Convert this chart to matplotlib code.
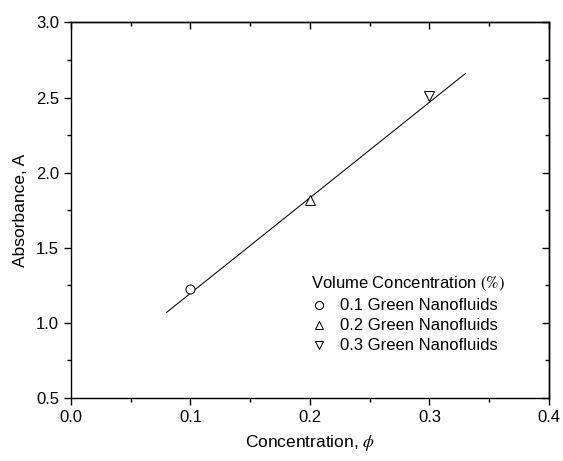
import numpy as np
import matplotlib
matplotlib.use("Agg")
import matplotlib.pyplot as plt
from matplotlib.ticker import MultipleLocator

plt.rcParams['font.family'] = ['Liberation Sans', 'DejaVu Sans']
plt.rcParams['mathtext.fontset'] = 'stix'

conc = [0.1, 0.2, 0.3]
absorb = [1.225, 1.82, 2.51]
labels = ["0.1 Green Nanofluids", "0.2 Green Nanofluids", "0.3 Green Nanofluids"]
markers = ["o", "^", "v"]
fit_x = [0.08, 0.33]
fit_y = [1.07, 2.66]

fig = plt.figure(figsize=(5.63, 4.61), dpi=100)
ax = fig.add_axes([0.1261, 0.1367, 0.8490, 0.8145])

ax.plot(fit_x, fit_y, color='black', lw=0.75, zorder=2)

for x, y, m, lab in zip(conc, absorb, markers, labels):
    ax.plot([x], [y], linestyle='none', marker=m, markersize=6.5, mfc='white',
            mec='black', mew=0.75, label=lab, zorder=3)

ax.set_xlim(0.0, 0.4)
ax.set_ylim(0.5, 3.0)
ax.xaxis.set_major_locator(MultipleLocator(0.1))
ax.xaxis.set_minor_locator(MultipleLocator(0.05))
ax.yaxis.set_major_locator(MultipleLocator(0.5))
ax.yaxis.set_minor_locator(MultipleLocator(0.25))
ax.xaxis.set_major_formatter(plt.FuncFormatter(lambda v, p: f"{v:.1f}"))
ax.yaxis.set_major_formatter(plt.FuncFormatter(lambda v, p: f"{v:.1f}"))

ax.tick_params(which='both', direction='out', top=False, right=False, labelsize=12, width=1)
ax.tick_params(which='major', length=5)
ax.tick_params(which='minor', length=3)

axt = ax.secondary_xaxis('top')
axt.xaxis.set_major_locator(MultipleLocator(0.1))
axt.xaxis.set_minor_locator(MultipleLocator(0.05))
axt.tick_params(which='both', direction='in', labeltop=False, width=1)
axt.tick_params(which='major', length=5)
axt.tick_params(which='minor', length=3)
axr = ax.secondary_yaxis('right')
axr.yaxis.set_major_locator(MultipleLocator(0.5))
axr.yaxis.set_minor_locator(MultipleLocator(0.25))
axr.tick_params(which='both', direction='in', labelright=False, width=1)
axr.tick_params(which='major', length=5)
axr.tick_params(which='minor', length=3)
for s in ax.spines.values():
    s.set_linewidth(1)
axt.spines['top'].set_linewidth(1)
axr.spines['right'].set_linewidth(1)

ax.set_xlabel(r"Concentration, $\phi$", fontsize=12.5, labelpad=6)
ax.set_ylabel("Absorbance, A", fontsize=12.5, labelpad=6)

leg = ax.legend(loc='upper left', bbox_to_anchor=(0.503, 0.327), frameon=False,
                title=r"Volume Concentration $(\%)$", fontsize=12, title_fontsize=12,
                alignment='left', handlelength=0.9, handletextpad=0.8, markerscale=0.9,
                labelspacing=0.3, borderaxespad=0, borderpad=0)

fig.savefig("out.png", dpi=100)
